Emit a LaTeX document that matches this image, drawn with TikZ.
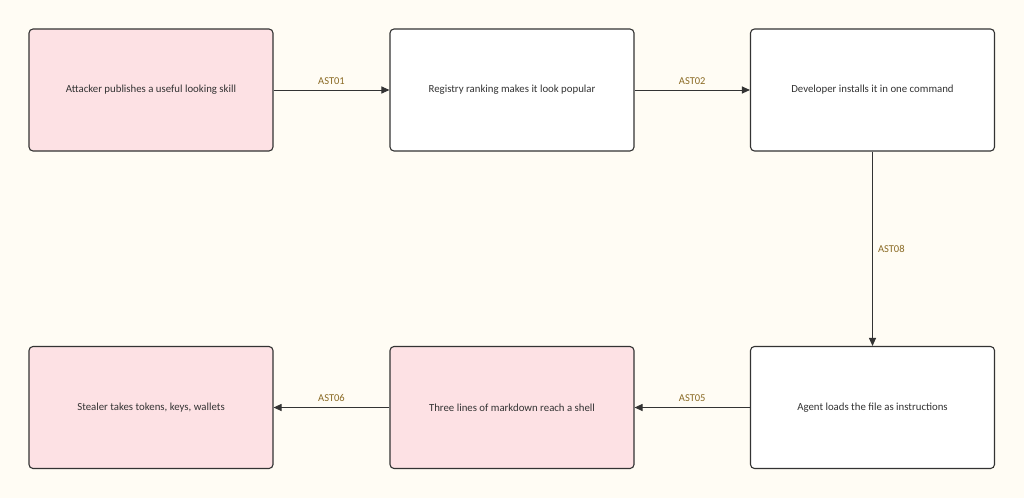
\documentclass[tikz,border=0pt]{standalone}
\usepackage{fontspec}
\setmainfont{Carlito}
\usetikzlibrary{arrows.meta}
\definecolor{bg}{HTML}{FFFCF4}
\definecolor{pinkfill}{HTML}{FDE1E4}
\definecolor{edge}{HTML}{333333}
\definecolor{lbl}{HTML}{8A6A24}
\begin{document}
\begin{tikzpicture}[x=1pt,y=-1pt,
  box/.style={draw=edge,line width=1.1pt,rounded corners=4pt,minimum width=244pt,minimum height=122pt,inner sep=0pt,font=\fontsize{10.8}{13}\selectfont,text=edge},
  attack/.style={box,fill=pinkfill},
  plain/.style={box,fill=white},
  conn/.style={draw=edge,line width=1pt,-{Triangle[length=8pt,width=7pt]}},
  elabel/.style={font=\fontsize{10.5}{12}\selectfont,text=lbl,inner sep=1pt}]
\fill[bg] (0,0) rectangle (1024,498);
\useasboundingbox (0,0) rectangle (1024,498);
\node[attack] (a) at (151,90) {Attacker publishes a useful looking skill};
\node[plain] (b) at (512,90) {Registry ranking makes it look popular};
\node[plain] (c) at (872.5,90) {Developer installs it in one command};
\node[plain] (d) at (872.5,407.5) {Agent loads the file as instructions};
\node[attack] (e) at (512,407.5) {Three lines of markdown reach a shell};
\node[attack] (f) at (151,407.5) {Stealer takes tokens, keys, wallets};
\draw[conn] (a) -- node[elabel,above=4pt]{AST01} (b);
\draw[conn] (b) -- node[elabel,above=4pt]{AST02} (c);
\draw[conn] (c) -- node[elabel,right=4pt,pos=0.5]{AST08} (d);
\draw[conn] (d) -- node[elabel,above=4pt]{AST05} (e);
\draw[conn] (e) -- node[elabel,above=4pt]{AST06} (f);
\end{tikzpicture}
\end{document}
